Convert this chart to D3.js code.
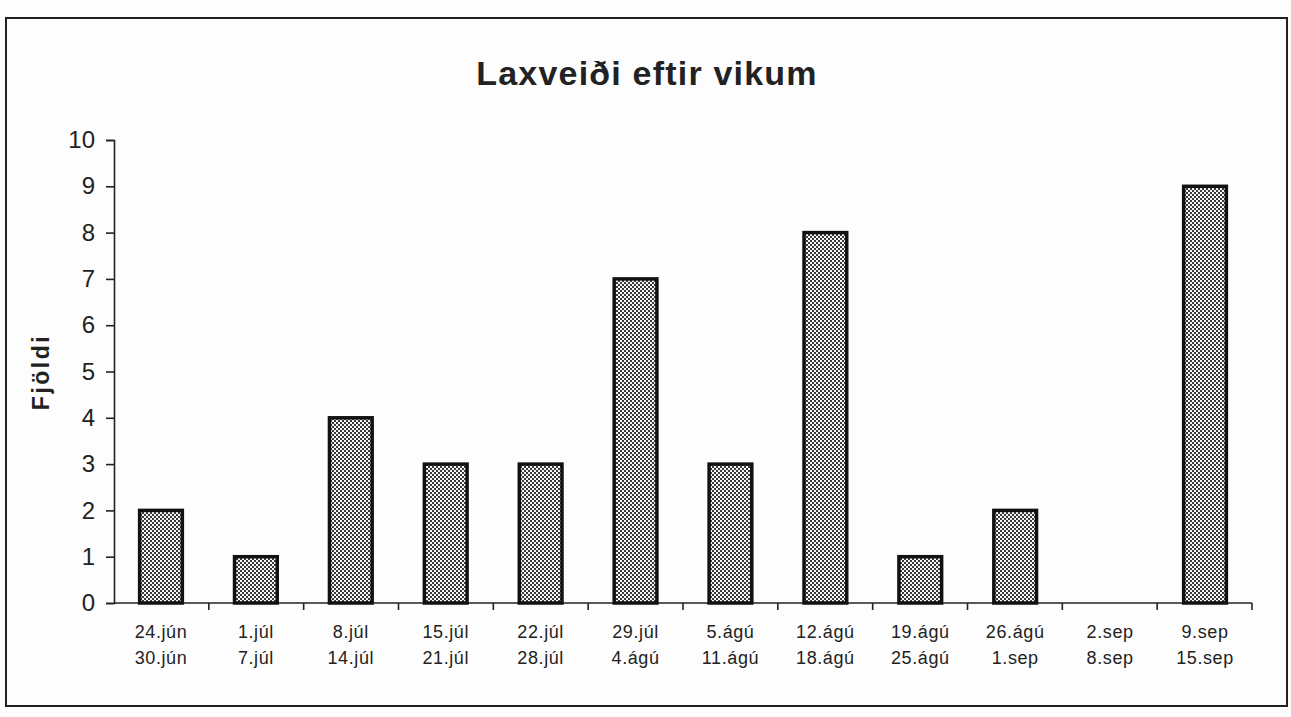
<!DOCTYPE html>
<html>
<head>
<meta charset="utf-8">
<script src="https://cdn.jsdelivr.net/npm/d3@7"></script>
<style>
  body { margin: 0; background: #fdfdfd; }
  svg { font-family: "Liberation Sans", Arial, Helvetica, sans-serif; }
  .axis path, .axis line { stroke: #222; stroke-width: 1.6; }
  .axis text { fill: #222; }
</style>
</head>
<body>
<div id="chart"></div>
<script>
const weekStart = ['24.jún', '1.júl', '8.júl', '15.júl', '22.júl', '29.júl', '5.ágú', '12.ágú', '19.ágú', '26.ágú', '2.sep', '9.sep'];
const weekEnd = ['30.jún', '7.júl', '14.júl', '21.júl', '28.júl', '4.ágú', '11.ágú', '18.ágú', '25.ágú', '1.sep', '8.sep', '15.sep'];
const catch_ = [2, 1, 4, 3, 3, 7, 3, 8, 1, 2, 0, 9];
const yTicks = [0, 1, 2, 3, 4, 5, 6, 7, 8, 9, 10];

const svgWidth = 1291, svgHeight = 717;
const margin = { top: 140, right: 39, bottom: 114, left: 114 };
const width = svgWidth - margin.left - margin.right;
const height = svgHeight - margin.top - margin.bottom;

const root = d3.select('#chart')
  .append('svg')
  .attr('width', svgWidth)
  .attr('height', svgHeight);

// dotted fill like the old print
const defs = root.append('defs');
const pat = defs.append('pattern')
  .attr('id', 'dots')
  .attr('patternUnits', 'userSpaceOnUse')
  .attr('width', 4)
  .attr('height', 4);
pat.append('rect').attr('width', 4).attr('height', 4).attr('fill', '#f6f6f6');
pat.append('rect').attr('x', 0).attr('y', 0).attr('width', 2).attr('height', 2).attr('fill', '#3a3a3a');
pat.append('rect').attr('x', 2).attr('y', 2).attr('width', 2).attr('height', 2).attr('fill', '#3a3a3a');

// outer frame
root.append('rect')
  .attr('x', 6).attr('y', 18)
  .attr('width', 1281).attr('height', 688)
  .attr('fill', 'none')
  .attr('stroke', '#222')
  .attr('stroke-width', 2);

root.append('text')
  .attr('x', 647)
  .attr('y', 85)
  .attr('text-anchor', 'middle')
  .attr('font-size', 34)
  .attr('font-weight', 'bold')
  .attr('letter-spacing', 1.2)
  .attr('fill', '#222')
  .text('Laxveiði eftir vikum');

const svg = root.append('g')
  .attr('transform', `translate(${margin.left},${margin.top})`);

const x = d3.scaleBand()
  .domain(weekStart)
  .range([0, width])
  .paddingInner(0.55)
  .paddingOuter(0.27);

const y = d3.scaleLinear()
  .domain([0, 10])
  .range([height, 0]);

// y axis
const yAxis = svg.append('g')
  .attr('class', 'axis')
  .call(d3.axisLeft(y).tickValues(yTicks).tickSize(8).tickSizeOuter(8).tickPadding(11));
yAxis.selectAll('text').attr('font-size', 24);

// x axis with ticks at category boundaries
const xAxisG = svg.append('g')
  .attr('class', 'axis')
  .attr('transform', `translate(0,${height})`);
xAxisG.append('line')
  .attr('x1', 0).attr('x2', width)
  .attr('stroke', '#222').attr('stroke-width', 1.6);
const bounds = d3.range(weekStart.length + 1).map(i => i * width / weekStart.length);
xAxisG.selectAll('line.tick')
  .data(bounds.slice(1))
  .enter()
  .append('line')
  .attr('class', 'tick')
  .attr('x1', d => d).attr('x2', d => d)
  .attr('y1', 0).attr('y2', 7)
  .attr('stroke', '#222').attr('stroke-width', 1.6);

const lab = xAxisG.selectAll('text.lab')
  .data(weekStart)
  .enter()
  .append('text')
  .attr('class', 'lab')
  .attr('text-anchor', 'middle')
  .attr('font-size', 18)
  .attr('letter-spacing', 0.6)
  .attr('fill', '#222')
  .attr('transform', d => `translate(${x(d) + x.bandwidth() / 2},0)`);
lab.append('tspan').attr('x', 0).attr('y', 35).text(d => d);
lab.append('tspan').attr('x', 0).attr('y', 61).text((d, i) => weekEnd[i]);

// bars
svg.selectAll('rect.bar')
  .data(catch_.map((v, i) => ({ wk: weekStart[i], v })).filter(d => d.v > 0))
  .enter()
  .append('rect')
  .attr('class', 'bar')
  .attr('x', d => x(d.wk))
  .attr('y', d => y(d.v))
  .attr('width', x.bandwidth())
  .attr('height', d => height - y(d.v))
  .attr('fill', 'url(#dots)')
  .attr('stroke', '#111')
  .attr('stroke-width', 3.5);

// y title
root.append('text')
  .attr('transform', 'translate(49,372) rotate(-90)')
  .attr('text-anchor', 'middle')
  .attr('font-size', 23)
  .attr('font-weight', 'bold')
  .attr('letter-spacing', 2.5)
  .attr('fill', '#222')
  .text('Fjöldi');
</script>
</body>
</html>
